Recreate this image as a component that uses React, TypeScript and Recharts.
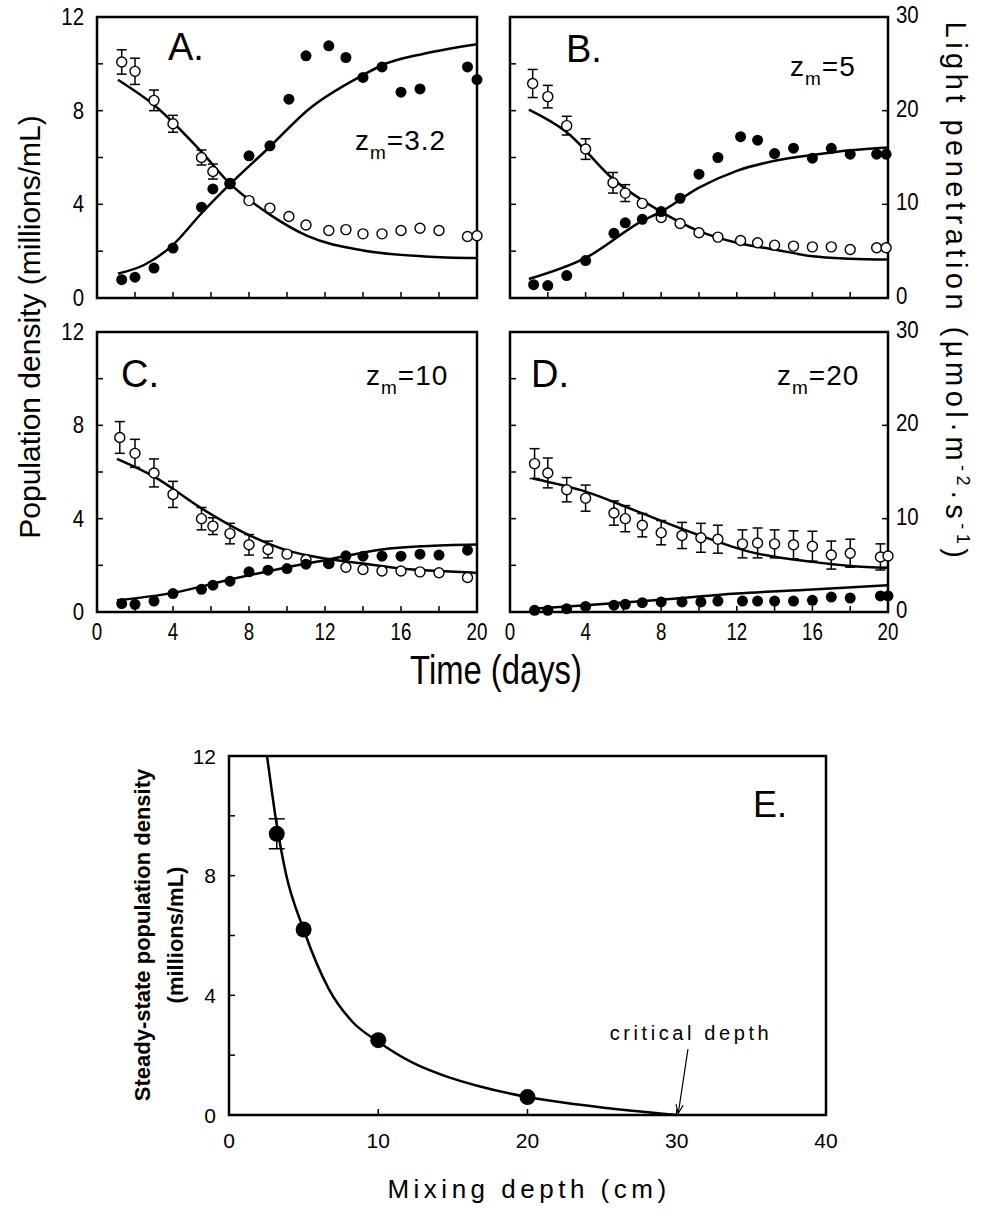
import React from 'react';
import { ComposedChart, Line, Scatter, XAxis, YAxis, ErrorBar, ReferenceArea, ReferenceLine } from 'recharts';

const FONT = '"Liberation Sans", Arial, Helvetica, sans-serif';

type Pt = { x: number; y: number; e?: number };
const pts = (rows: number[][]): Pt[] => rows.map(([x, y, e]) => ({ x, y, e }));

// shared axis ticks
const dayTicks = [0, 2, 4, 6, 8, 10, 12, 14, 16, 18, 20];
const densityTicks = [0, 2, 4, 6, 8, 10, 12];
const lightTicks = [0, 10, 20, 30];

// A. z_m = 3.2  (cells: millions/mL, light: umol m-2 s-1)
const cellsA = pts([[1.3, 0.78], [2, 0.89], [3, 1.28], [4, 2.13], [5.5, 3.88], [6.1, 4.66], [7, 4.9], [8, 6.07], [9.1, 6.5], [10.1, 8.49], [11, 10.34], [12.2, 10.77], [13.1, 10.27], [14, 9.42], [15, 9.87], [16, 8.79], [17, 8.93], [19.5, 9.87], [20, 9.33]]);
const lightA = pts([[1.3, 25.2, 1.3], [2, 24.2, 1.4], [3, 21.1, 1.1], [4, 18.6, 0.9], [5.5, 15.0, 0.8], [6.1, 13.5, 0.8], [7, 12.2], [8, 10.4], [9.1, 9.6], [10.1, 8.7], [11, 7.8], [12.2, 7.2], [13.1, 7.3], [14, 6.85], [15, 6.85], [16, 7.2], [17, 7.45], [18, 7.2], [19.5, 6.57], [20, 6.64]]);
const cellFitA = pts([[1.1, 1.04], [2.5, 1.42], [4, 2.27], [5.5, 3.62], [7, 4.86], [9.1, 6.46], [11.1, 8.03], [14, 9.52], [15, 9.94], [17.25, 10.44], [20, 10.84]]);
const lightFitA = pts([[1.1, 23.3], [3, 20.6], [5.5, 15.6], [7, 12.2], [9.1, 8.9], [11.1, 6.6], [14, 5.08], [17.25, 4.44], [20, 4.26]]);

// B. z_m = 5
const cellsB = pts([[1.25, 0.57], [2, 0.53], [3, 0.96], [4, 1.6], [5.5, 2.76], [6.1, 3.21], [7, 3.36], [8, 3.69], [9, 4.26], [10, 5.29], [11, 6.0], [12.2, 6.89], [13.1, 6.74], [14, 6.17], [15, 6.4], [16, 5.97], [17, 6.39], [18, 6.14], [19.4, 6.14], [19.9, 6.14]]);
const lightB = pts([[1.2, 22.9, 1.5], [2, 21.5, 1.2], [3, 18.4, 1.0], [4, 15.9, 1.1], [5.45, 12.3, 1.1], [6.1, 11.2, 0.9], [7, 10.1], [8, 8.6], [9, 7.96], [10, 6.96], [11, 6.5], [12.2, 6.14], [13.1, 5.9], [14, 5.64], [15, 5.54], [16, 5.46], [17, 5.46], [18, 5.18], [19.4, 5.36], [19.9, 5.36]]);
const cellFitB = pts([[1, 0.81], [4, 1.71], [7, 3.29], [8, 3.69], [10, 4.71], [12, 5.43], [14, 5.86], [16, 6.11], [18, 6.31], [20, 6.43]]);
const lightFitB = pts([[1, 20.1], [3, 17.7], [5.45, 12.7], [8, 9.2], [10, 7.14], [12, 5.9], [14, 5.18], [16, 4.46], [18, 4.2], [20, 4.1]]);

// C. z_m = 10
const cellsC = pts([[1.3, 0.36], [2, 0.33], [3, 0.47], [4, 0.79], [5.5, 0.97], [6.1, 1.15], [7, 1.32], [8, 1.72], [9, 1.79], [10, 1.86], [11, 2.05], [12.2, 2.08], [13.1, 2.41], [14, 2.39], [15, 2.39], [16, 2.39], [17, 2.48], [18, 2.44], [19.5, 2.65]]);
const lightC = pts([[1.2, 18.7, 1.7], [2, 17.0, 1.5], [3, 14.9, 1.5], [4, 12.6, 1.4], [5.5, 10.0, 1.2], [6.1, 9.2, 0.9], [7, 8.4, 1.1], [8, 7.2, 1.1], [9, 6.7, 0.9], [10, 6.2], [11, 5.6], [12.2, 5.2], [13.1, 4.8], [14, 4.55], [15, 4.4], [16, 4.4], [17, 4.3], [18, 4.2], [19.5, 3.7]]);
const cellFitC = pts([[1.05, 0.5], [4, 0.82], [7, 1.39], [10.1, 1.93], [12, 2.22], [15, 2.68], [17.2, 2.82], [20, 2.89]]);
const lightFitC = pts([[1.05, 16.4], [3, 14.5], [5.5, 11.1], [8, 8.24], [10, 6.6], [12, 5.73], [14, 5.19], [16, 4.65], [18, 4.4], [20, 4.19]]);

// D. z_m = 20
const cellsD = pts([[1.3, 0.07], [2, 0.07], [3, 0.14], [4, 0.24], [5.5, 0.29], [6.1, 0.33], [7, 0.4], [8, 0.43], [9.1, 0.43], [10.1, 0.43], [11, 0.47], [12.3, 0.47], [13.1, 0.47], [14, 0.47], [15, 0.47], [16, 0.5], [17, 0.64], [18, 0.6], [19.6, 0.69], [20, 0.69]]);
const lightD = pts([[1.3, 15.9, 1.6], [2, 14.9, 1.6], [3, 13.1, 1.3], [4, 12.2, 1.4], [5.5, 10.6, 1.3], [6.1, 10.0, 1.4], [7, 9.3, 1.25], [8, 8.5, 1.3], [9.1, 8.2, 1.4], [10.1, 7.95, 1.55], [11, 7.8, 1.5], [12.3, 7.3, 1.5], [13.1, 7.4, 1.6], [14, 7.3, 1.5], [15, 7.2, 1.5], [16, 7.05, 1.6], [17, 6.1, 1.5], [18, 6.3, 1.5], [19.6, 5.9, 1.4], [20, 6.0]]);
const cellFitD = pts([[1.2, 0.14], [4, 0.29], [8, 0.53], [12, 0.79], [16, 0.96], [20, 1.15]]);
const lightFitD = pts([[1.2, 14.3], [4, 12.9], [7, 10.56], [10, 8.23], [12.7, 6.44], [16, 5.37], [18, 4.94], [20, 4.73]]);

// E. steady state vs mixing depth
const depthTicks = [0, 10, 20, 30, 40];
const steadyE = pts([[3.2, 9.4, 0.5], [5, 6.2], [10, 2.5], [20, 0.6]]);
const steadyFitE = pts([[2.55, 12], [3.2, 9.7], [3.8, 8.1], [5, 6.2], [6.7, 4.2], [8.3, 3.1], [10, 2.45], [12.3, 1.75], [14.5, 1.3], [16.7, 0.97], [20, 0.6], [23.4, 0.35], [27, 0.14], [30, 0]]);
const criticalDepth = 30;

const openDot = (p: any) => <circle cx={p.cx} cy={p.cy} r={5} fill="#fff" stroke="#000" strokeWidth={1.4} />;
const filledDot = (p: any) => <circle cx={p.cx} cy={p.cy} r={5.5} fill="#000" />;
const bigDot = (p: any) => <circle cx={p.cx} cy={p.cy} r={8} fill="#000" />;

// narrow-looking numbers: squeeze regular font horizontally
const Num = ({ x, y, anchor, fs, sx, children }: any) => (
  <text transform={`translate(${x},${y}) scale(${sx},1)`} textAnchor={anchor} dominantBaseline="central" fontSize={fs} fontFamily={FONT} fill="#000">{children}</text>
);

// ticks point inward; labels drawn only for "every"
const leftTick = (show: boolean, every: number, fs: number, sx: number) => (p: any) => {
  const v = p.payload.value;
  return (
    <g>
      <line x1={p.x} x2={p.x + 6} y1={p.y} y2={p.y} stroke="#000" strokeWidth={1.5} />
      {show && v % every === 0 && <Num x={p.x - 13} y={p.y} anchor="end" fs={fs} sx={sx}>{v}</Num>}
    </g>
  );
};
const rightTick = (show: boolean, fs: number, sx: number) => (p: any) => {
  const v = p.payload.value;
  return (
    <g>
      <line x1={p.x - 6} x2={p.x} y1={p.y} y2={p.y} stroke="#000" strokeWidth={1.5} />
      {show && <Num x={p.x + 8} y={p.y - 2} anchor="start" fs={fs} sx={sx}>{v}</Num>}
    </g>
  );
};
const bottomTick = (show: boolean, every: number, fs: number, sx: number, gap: number) => (p: any) => {
  const v = p.payload.value;
  return (
    <g>
      <line x1={p.x} x2={p.x} y1={p.y} y2={p.y - 6} stroke="#000" strokeWidth={1.5} />
      {show && v % every === 0 && <Num x={p.x} y={p.y + gap} anchor="middle" fs={fs} sx={sx}>{v}</Num>}
    </g>
  );
};

const YL = 60;
const YR = 60;
const TOP = 22;
const XH = 40;

function TimePanel(props: {
  left: number; top: number; width: number; height: number;
  cells: Pt[]; light: Pt[]; cellFit: Pt[]; lightFit: Pt[];
  side: 'left' | 'right'; showX: boolean;
}) {
  const { left, top, width, height, cells, light, cellFit, lightFit, side, showX } = props;
  const withErr = light.filter((d) => d.e != null);
  const noErr = light.filter((d) => d.e == null);
  return (
    <div style={{ position: 'absolute', left: left - YL, top: top - TOP }}>
      <ComposedChart width={YL + width + YR} height={TOP + height + XH} margin={{ top: TOP, right: 0, bottom: 0, left: 0 }}>
        <XAxis xAxisId="t" dataKey="x" type="number" domain={[0, 20]} ticks={dayTicks} interval={0} height={XH}
          axisLine={false} tickLine={false} tickSize={0} tickMargin={0} tick={bottomTick(showX, 4, 24, 0.78, 20)} />
        <YAxis yAxisId="n" orientation="left" type="number" domain={[0, 12]} ticks={densityTicks} interval={0} width={YL}
          axisLine={false} tickLine={false} tickSize={0} tickMargin={0} tick={leftTick(side === 'left', 4, 24, 0.85)} />
        <YAxis yAxisId="l" orientation="right" type="number" domain={[0, 30]} ticks={lightTicks} interval={0} width={YR}
          axisLine={false} tickLine={false} tickSize={0} tickMargin={0} tick={side === 'right' ? rightTick(true, 24, 0.85) : false} />
        <ReferenceArea xAxisId="t" yAxisId="n" x1={0} x2={20} y1={0} y2={12} fill="none" stroke="#000" strokeWidth={2.5} />
        <Line xAxisId="t" yAxisId="l" data={lightFit} dataKey="y" type="monotone" dot={false} stroke="#000" strokeWidth={2.5} isAnimationActive={false} />
        <Line xAxisId="t" yAxisId="n" data={cellFit} dataKey="y" type="monotone" dot={false} stroke="#000" strokeWidth={2.5} isAnimationActive={false} />
        <Scatter xAxisId="t" yAxisId="l" data={withErr} dataKey="y" shape={openDot} isAnimationActive={false}>
          <ErrorBar dataKey="e" direction="y" width={5} stroke="#000" strokeWidth={1.5} />
        </Scatter>
        <Scatter xAxisId="t" yAxisId="l" data={noErr} dataKey="y" shape={openDot} isAnimationActive={false} />
        <Scatter xAxisId="t" yAxisId="n" data={cells} dataKey="y" shape={filledDot} isAnimationActive={false} />
      </ComposedChart>
    </div>
  );
}

function SteadyPanel() {
  const left = 229, top = 756, width = 597, height = 359;
  const withErr = steadyE.filter((d) => d.e != null);
  const noErr = steadyE.filter((d) => d.e == null);
  return (
    <div style={{ position: 'absolute', left: left - YL, top: top - TOP }}>
      <ComposedChart width={YL + width + 20} height={TOP + height + XH} margin={{ top: TOP, right: 20, bottom: 0, left: 0 }}>
        <XAxis xAxisId="d" dataKey="x" type="number" domain={[0, 40]} ticks={depthTicks} interval={0} height={XH}
          axisLine={false} tickLine={false} tickSize={0} tickMargin={0} tick={bottomTick(true, 10, 21, 1, 25)} />
        <YAxis yAxisId="s" orientation="left" type="number" domain={[0, 12]} ticks={densityTicks} interval={0} width={YL}
          axisLine={false} tickLine={false} tickSize={0} tickMargin={0} tick={leftTick(true, 4, 21, 1)} />
        <ReferenceArea xAxisId="d" yAxisId="s" x1={0} x2={40} y1={0} y2={12} fill="none" stroke="#000" strokeWidth={2.5} />
        <Line xAxisId="d" yAxisId="s" data={steadyFitE} dataKey="y" type="monotone" dot={false} stroke="#000" strokeWidth={2.5} isAnimationActive={false} />
        <Scatter xAxisId="d" yAxisId="s" data={withErr} dataKey="y" shape={bigDot} isAnimationActive={false}>
          <ErrorBar dataKey="e" direction="y" width={8} stroke="#000" strokeWidth={1.5} />
        </Scatter>
        <Scatter xAxisId="d" yAxisId="s" data={noErr} dataKey="y" shape={bigDot} isAnimationActive={false} />
        <ReferenceLine xAxisId="d" yAxisId="s" segment={[{ x: criticalDepth + 0.75, y: 2.2 }, { x: criticalDepth + 0.1, y: 0.05 }]}
          stroke="#000" strokeWidth={1.2} markerEnd="url(#critArrow)" />
      </ComposedChart>
    </div>
  );
}

const Zm = ({ x, y, value }: { x: number; y: number; value: string }) => (
  <text x={x} y={y} fontSize={28} fontFamily={FONT} fill="#000" letterSpacing={1}>
    z<tspan fontSize={19} dy={9}>m</tspan><tspan dy={-9}>={value}</tspan>
  </text>
);

export default function App() {
  return (
    <div style={{ position: 'absolute', left: 0, top: 0, width: 983, height: 1219, background: '#fff', fontFamily: FONT }}>
      <svg width={0} height={0} style={{ position: 'absolute' }}>
        <defs>
          <marker id="critArrow" viewBox="0 0 10 10" refX={10} refY={5} markerWidth={9} markerHeight={9} orient="auto" markerUnits="userSpaceOnUse">
            <path d="M0,1 L10,5 L0,9" fill="none" stroke="#000" strokeWidth={1.2} />
          </marker>
        </defs>
      </svg>
      <TimePanel left={97} top={17} width={380} height={281} cells={cellsA} light={lightA} cellFit={cellFitA} lightFit={lightFitA} side="left" showX={false} />
      <TimePanel left={510} top={17} width={378} height={281} cells={cellsB} light={lightB} cellFit={cellFitB} lightFit={lightFitB} side="right" showX={false} />
      <TimePanel left={97} top={332} width={380} height={280} cells={cellsC} light={lightC} cellFit={cellFitC} lightFit={lightFitC} side="left" showX={true} />
      <TimePanel left={510} top={332} width={378} height={280} cells={cellsD} light={lightD} cellFit={cellFitD} lightFit={lightFitD} side="right" showX={true} />
      <SteadyPanel />
      <svg width={983} height={1219} style={{ position: 'absolute', left: 0, top: 0, pointerEvents: 'none' }}>
        <text x={168} y={60} fontSize={38} fontFamily={FONT}>A.</text>
        <text x={566} y={62} fontSize={38} fontFamily={FONT}>B.</text>
        <text x={121} y={387} fontSize={38} fontFamily={FONT}>C.</text>
        <text x={531} y={387} fontSize={38} fontFamily={FONT}>D.</text>
        <Zm x={355} y={150} value="3.2" />
        <Zm x={790} y={76} value="5" />
        <Zm x={366} y={385} value="10" />
        <Zm x={777} y={385} value="20" />
        <text transform="translate(40,327) rotate(-90)" textAnchor="middle" fontSize={30} fontFamily={FONT}>Population density (millions/mL)</text>
        <text transform="translate(946,292) rotate(90)" textAnchor="middle" fontSize={29} letterSpacing={4.5} fontFamily={FONT}>
          Light penetration (µmol·m<tspan fontSize={18} dy={-11}>-2</tspan><tspan dy={11}>·s</tspan><tspan fontSize={18} dy={-11}>-1</tspan><tspan dy={11}>)</tspan>
        </text>
        <text transform="translate(496,684) scale(0.82,1)" textAnchor="middle" fontSize={40} fontFamily={FONT}>Time (days)</text>
        <text x={753} y={817} fontSize={36} fontFamily={FONT}>E.</text>
        <text x={691} y={1040} textAnchor="middle" fontSize={20} letterSpacing={3.6} fontFamily={FONT}>critical depth</text>
        <text x={529} y={1198} textAnchor="middle" fontSize={26} letterSpacing={4.5} fontFamily={FONT}>Mixing depth (cm)</text>
        <text transform="translate(150,935) rotate(-90)" textAnchor="middle" fontSize={22} fontWeight="bold" fontFamily={FONT}>Steady-state population density</text>
        <text transform="translate(183,935) rotate(-90)" textAnchor="middle" fontSize={22} fontWeight="bold" fontFamily={FONT}>(millions/mL)</text>
      </svg>
    </div>
  );
}
